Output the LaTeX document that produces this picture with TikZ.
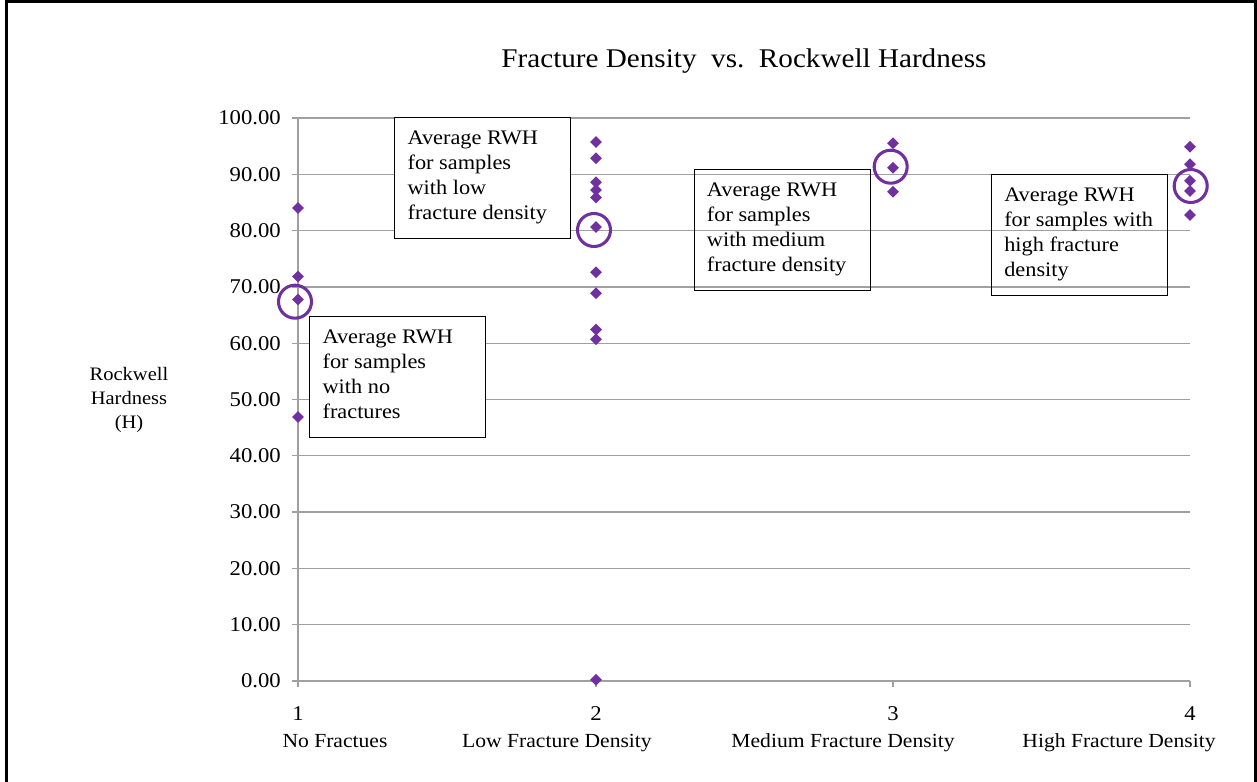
\documentclass[tikz,border=0pt]{standalone}
\usepackage{fontspec}
\setmainfont{Liberation Serif}[FakeStretch=1.08]
\usetikzlibrary{shapes.geometric}
\definecolor{mpurple}{HTML}{7030A0}
\definecolor{gridgray}{HTML}{A0A0A0}
\begin{document}
\begin{tikzpicture}[x=0.75pt,y=-0.75pt,
 gridline/.style={draw=gridgray,line width=1.0pt},
 datapt/.style={shape=diamond,fill=mpurple,inner sep=0pt,minimum width=9pt,minimum height=9pt},
 avgring/.style={circle,draw=mpurple,line width=2.3pt,minimum size=24.75pt,inner sep=0pt},
 notebox/.style={draw=black,line width=0.9pt,minimum width=132pt,minimum height=90.75pt,inner sep=0pt,anchor=north west},
 filledbox/.style={notebox,fill=white},
 notetext/.style={anchor=north west,inner sep=0pt,align=left,font=\fontsize{15.5}{18.75}\selectfont},
 ticklab/.style={font=\fontsize{15.75}{18}\selectfont,inner sep=0pt},
 catlab/.style={font=\fontsize{15}{18}\selectfont,inner sep=0pt,anchor=base},
]
\useasboundingbox (0,0) rectangle (1257,782);
\fill[white] (0,0) rectangle (1257,782);
\draw[line width=1.8pt] (6.5,782) -- (6.5,1.5) -- (1255.5,1.5) -- (1255.5,782);

% title
\node[anchor=base,inner sep=0pt,font=\fontsize{20.25}{24}\selectfont] (title) at (744,67) {Fracture Density~~vs.~~Rockwell Hardness};

% grid and axes
\foreach \k in {0,...,10} {
  \draw[gridline] (292,681-56.3*\k) -- (1190,681-56.3*\k);
}
\draw[gridline] (298,118) -- (298,687);
\foreach \xx in {596,893,1190} {
  \draw[gridline] (\xx,681) -- (\xx,687);
}

% y tick labels
\foreach \k/\lab in {0/0.00,1/10.00,2/20.00,3/30.00,4/40.00,5/50.00,6/60.00,7/70.00,8/80.00,9/90.00,10/100.00} {
  \node[ticklab,anchor=east] (yl\k) at (281,681-56.3*\k) {\lab};
}

% x tick labels
\node[ticklab,anchor=base] (xl1) at (298,720) {1};
\node[ticklab,anchor=base] (xl2) at (596,720) {2};
\node[ticklab,anchor=base] (xl3) at (893,720) {3};
\node[ticklab,anchor=base] (xl4) at (1190,720) {4};

% category labels
\node[catlab] (c1) at (335,747) {No Fractues};
\node[catlab] (c2) at (557,747) {Low Fracture Density};
\node[catlab] (c3) at (843,747) {Medium Fracture Density};
\node[catlab] (c4) at (1119,747) {High Fracture Density};

% y axis title
\node[anchor=north,inner sep=0pt,align=center,font=\fontsize{14.25}{18}\selectfont] (ytitle) at (129,367) {Rockwell\\Hardness\\(H)};

% data points
\foreach \i/\xx/\yy in {
  a/298/208.1, b/298/276.5, c/298/299.5, d/298/417,
  e/596/142.1, f/596/158.2, g/596/182.3, h/596/189.9, i/596/197.6, j/596/227,
  k/596/272.2, l/596/293.3, m/596/329.6, n/596/339.2, o/596/679.8,
  p/893/143.3, q/893/167.7, r/893/191.7,
  s/1190/146.7, t/1190/164.3, u/1190/180.7, v/1190/191, w/1190/215} {
  \node[datapt] (pt\i) at (\xx,\yy) {};
}

% average rings
\node[avgring] (avg1) at (295,301.7) {};
\node[avgring] (avg2) at (594,230) {};
\node[avgring] (avg3) at (890.7,166.7) {};
\node[avgring] (avg4) at (1190.7,186) {};

% annotation boxes
\node[filledbox] (box1) at (309,316) {};
\node[filledbox] (box2) at (394,117) {};
\node[notebox] (box3) at (694,169) {};
\node[notebox] (box4) at (991,174) {};

\node[notetext] (t1) at ([xshift=10pt,yshift=-10pt]box1.north west) {Average RWH\\for samples\\with no\\fractures};
\node[notetext] (t2) at ([xshift=10pt,yshift=-10pt]box2.north west) {Average RWH\\for samples\\with low\\fracture density};
\node[notetext] (t3) at ([xshift=9.5pt,yshift=-10pt]box3.north west) {Average RWH\\for samples\\with medium\\fracture density};
\node[notetext] (t4) at ([xshift=9.75pt,yshift=-10pt]box4.north west) {Average RWH\\for samples with\\high fracture\\density};
\end{tikzpicture}
\end{document}
